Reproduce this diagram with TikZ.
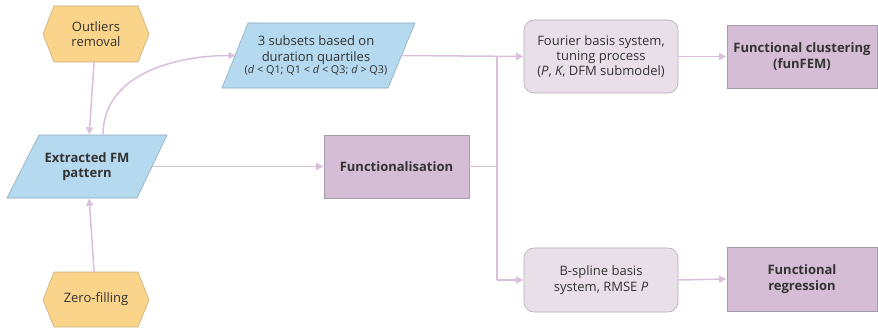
\documentclass[tikz,border=0pt]{standalone}
\usepackage{fontspec}
\setmainfont{Open Sans}
\usetikzlibrary{arrows.meta,calc}
\definecolor{linec}{HTML}{D9BFDA}
\definecolor{hexfill}{HTML}{F9D48A}
\definecolor{hexdraw}{HTML}{C9AE78}
\definecolor{bluefill}{HTML}{B5D9EF}
\definecolor{bluedraw}{HTML}{8FAABB}
\definecolor{purfill}{HTML}{D4BDD5}
\definecolor{purdraw}{HTML}{A49CAE}
\definecolor{litefill}{HTML}{E9DFE9}
\definecolor{litedraw}{HTML}{B3AAB8}
\definecolor{txt}{HTML}{333333}
\tikzset{
  txtnode/.style={draw=none, align=center, text=txt, font=\fontsize{13}{15.3}\selectfont, inner sep=0pt},
  hexshape/.style={fill=hexfill, draw=hexdraw, line width=0.6pt},
  parshape/.style={fill=bluefill, draw=bluedraw, line width=0.6pt},
  purbox/.style={rectangle, fill=purfill, draw=purdraw, line width=0.6pt, align=center, text=txt, font=\fontsize{13}{15.3}\selectfont\bfseries},
  litebox/.style={rectangle, rounded corners=10pt, fill=litefill, draw=litedraw, line width=0.6pt, align=center, text=txt, font=\fontsize{13}{15.3}\selectfont},
  conn/.style={draw=linec, line width=1.5pt},
  arr/.style={conn, -{Triangle[length=7pt,width=7pt]}, shorten >=0.5pt}
}
\begin{document}
\begin{tikzpicture}[x=1pt,y=-1pt]
\useasboundingbox (0,0) rectangle (878,329);
% hexagons
\filldraw[hexshape] (43,34) -- (54,6) -- (138,6) -- (149,34) -- (138,62) -- (54,62) -- cycle;
\filldraw[hexshape] (43,300) -- (54,272) -- (138,272) -- (149,300) -- (138,327) -- (54,327) -- cycle;
% parallelograms
\filldraw[parshape] (39,135) -- (167,135) -- (137,198) -- (7,198) -- cycle;
\filldraw[parshape] (248,23) -- (415,23) -- (388,88) -- (222,88) -- cycle;

\node[txtnode, minimum width=106pt, minimum height=56pt] (out) at (96,34) {Outliers\\removal};
\node[txtnode, minimum width=106pt, minimum height=55pt] (zero) at (96,299.5) {Zero-filling};
\node[txtnode, minimum width=130pt, minimum height=63pt, font=\fontsize{13}{15.3}\selectfont\bfseries] (ext) at (87,166.5) {Extracted FM\\pattern};
\node[txtnode, minimum width=166pt, minimum height=65pt] (sub) at (316,55.5) {3 subsets based on\\duration quartiles\\[-3pt]{\fontsize{10.8}{12}\selectfont(\textit{d} < Q1; Q1 < \textit{d} < Q3; \textit{d} > Q3)}};
\node[purbox, minimum width=145pt, minimum height=63pt] (func) at (396.5,166.5) {Functionalisation};
\node[litebox, minimum width=154pt, minimum height=73pt] (four) at (601,56.5) {Fourier basis system,\\tuning process\\(\textit{P}, \textit{K}, DFM submodel)};
\node[litebox, minimum width=154pt, minimum height=64pt] (bsp) at (601,280) {B-spline basis\\system, RMSE \textit{P}};
\node[purbox, minimum width=150pt, minimum height=63pt] (clus) at (802,56.5) {Functional clustering\\(funFEM)};
\node[purbox, minimum width=150pt, minimum height=64pt] (reg) at (802,279) {Functional\\regression};

\coordinate (jt) at (497,56.5);

\draw[arr] (out) -- (ext);
\draw[arr] (zero) -- (ext);
\draw[arr] ([xshift=16pt]ext.north) to[out=90,in=180] ([xshift=-80pt]sub.center);
\draw[arr] (ext.east) -- (func.west);
\draw[arr] ([xshift=2pt]sub.east) -- (four.west);
\draw[conn] (func.east) -- (func.east -| jt);
\draw[conn] (jt) -- (jt |- bsp.west);
\draw[arr] (jt |- bsp.west) -- (bsp.west);
\draw[arr] (four.east) -- (clus.west);
\draw[arr] (bsp.east) -- (reg.west);
\end{tikzpicture}
\end{document}
